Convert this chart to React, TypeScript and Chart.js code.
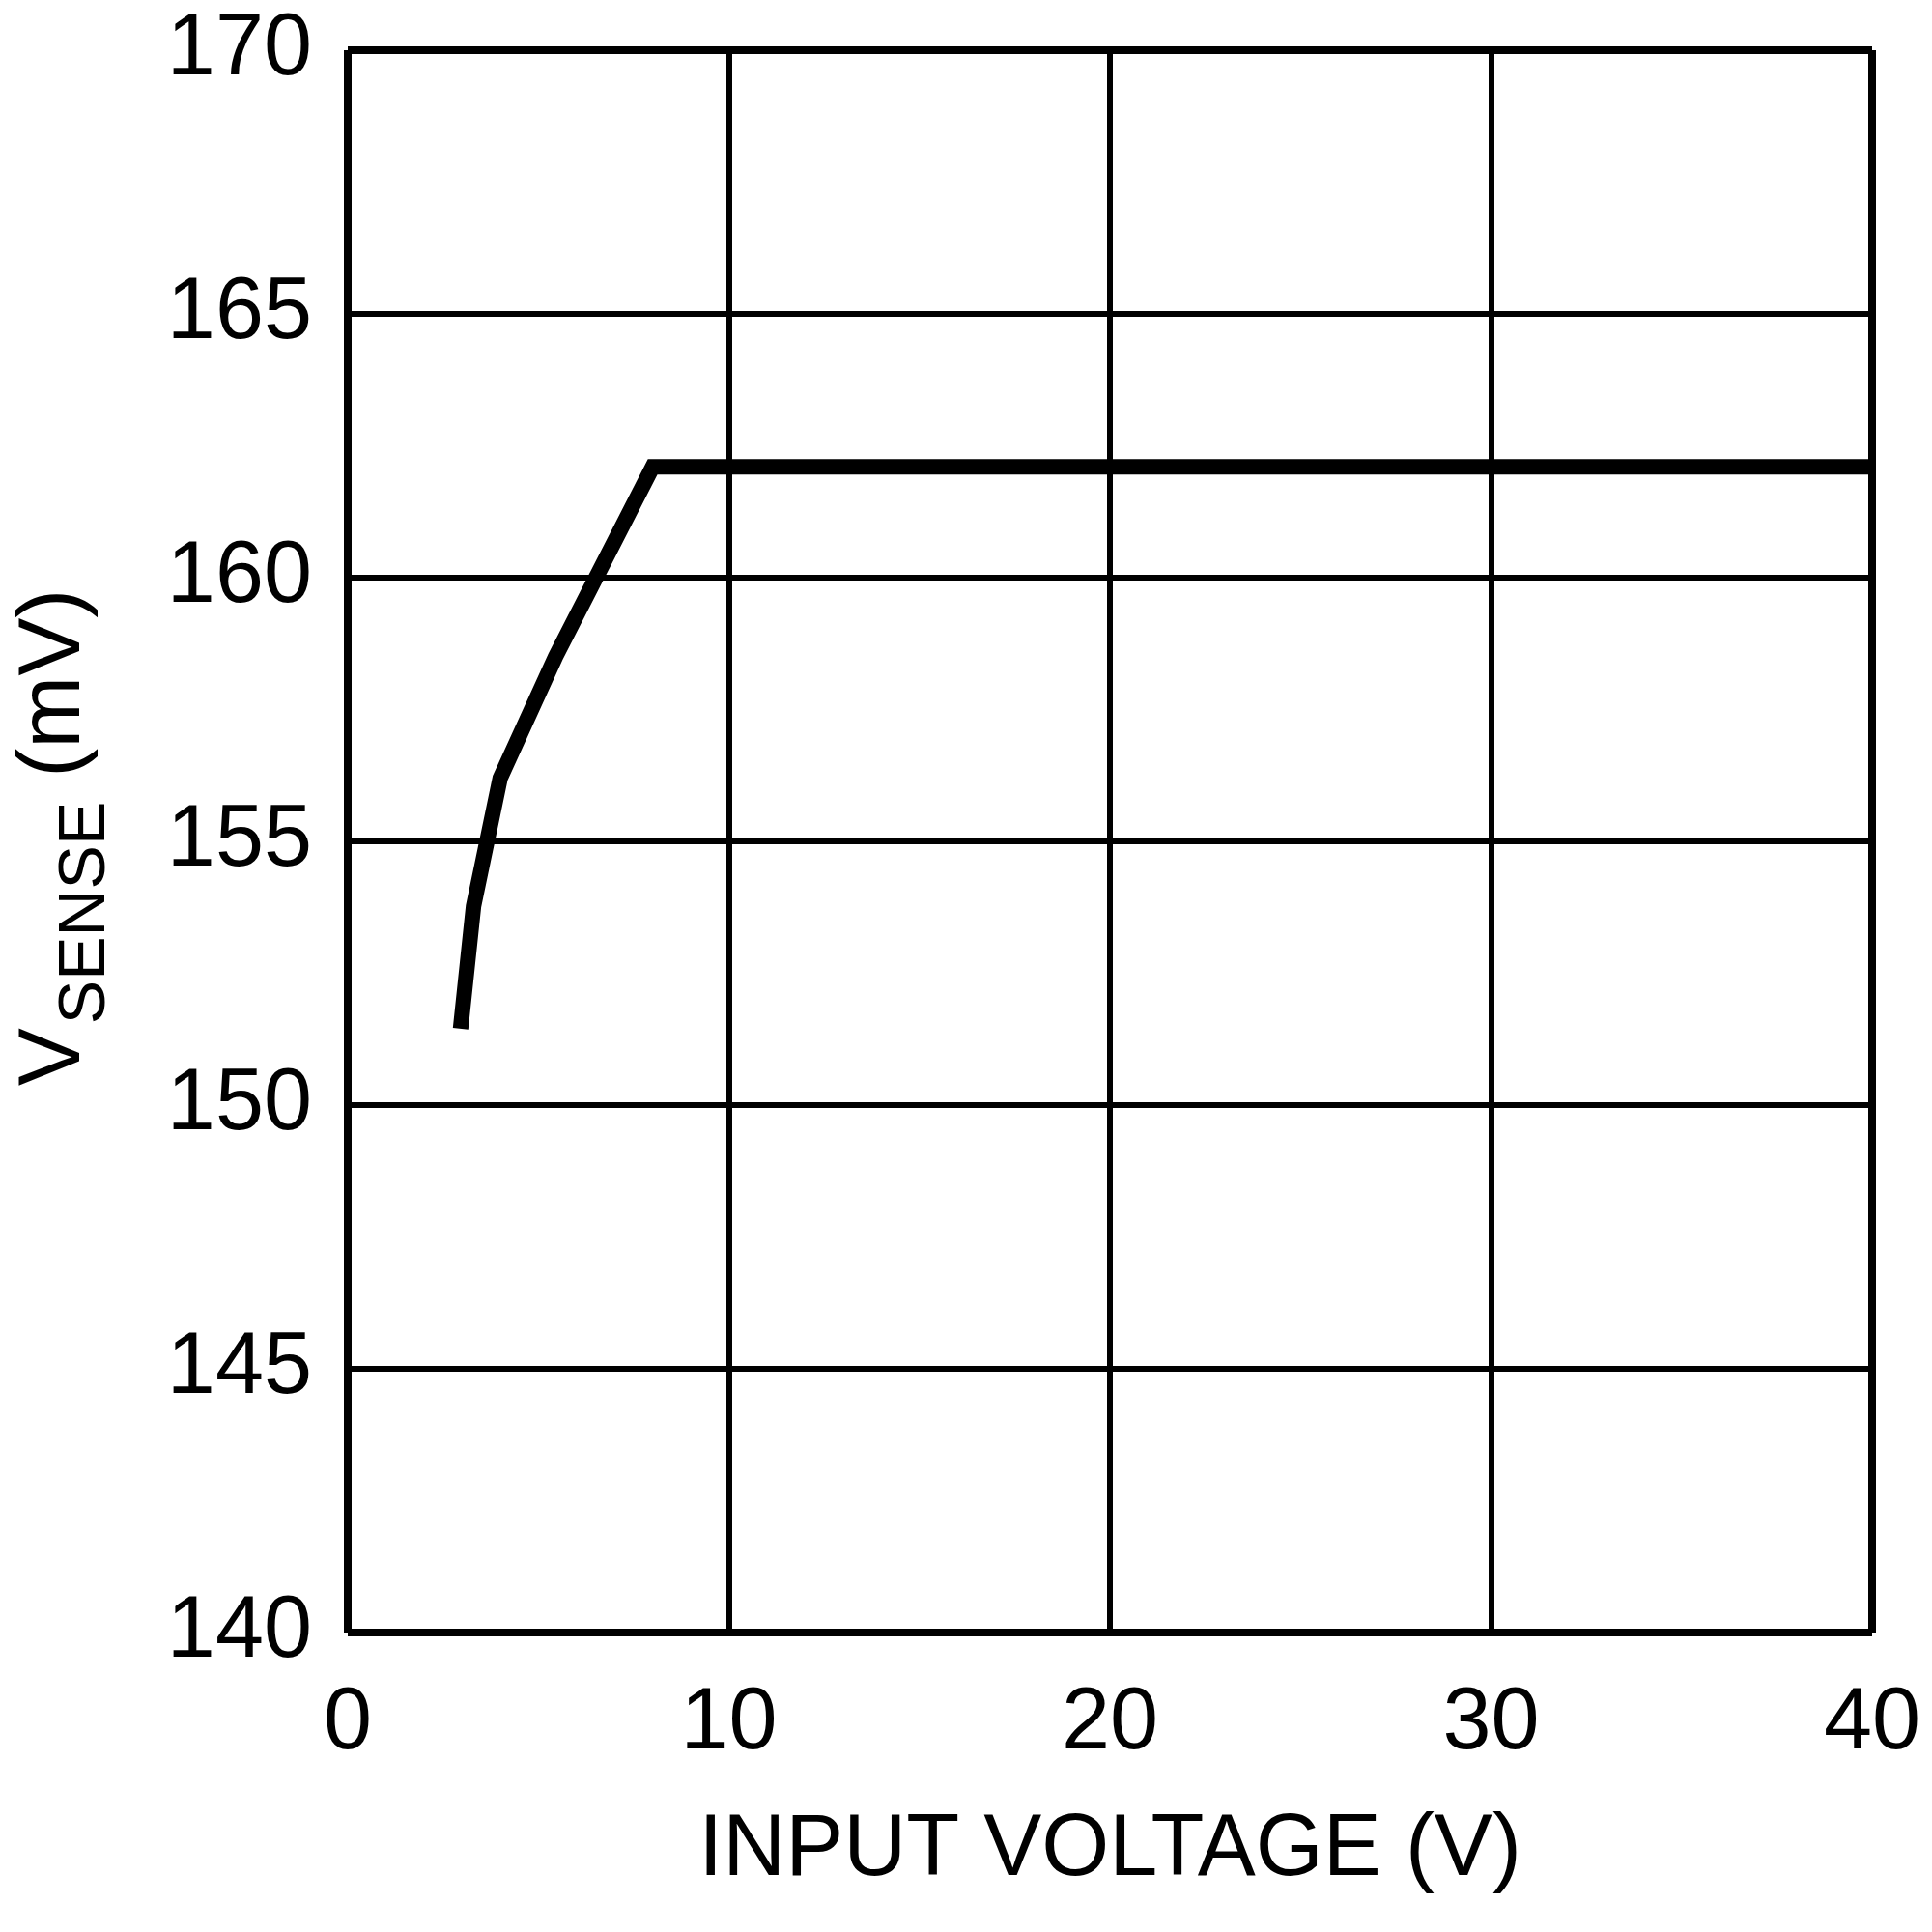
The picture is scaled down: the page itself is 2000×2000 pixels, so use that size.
import React, { useEffect, useRef } from "react";
import { Chart, registerables } from "chart.js";

Chart.register(...registerables);

// ---- data ----
const inputVoltage = [2.96, 3.3, 4.0, 5.45, 8.0, 40];
const vSense = [151.45, 153.77, 156.2, 158.5, 162.1, 162.1];
const xTicks = [0, 10, 20, 30, 40];
const yTicks = [140, 145, 150, 155, 160, 165, 170];
const xTitle = "INPUT VOLTAGE (V)";
const yTitleMain = "V";
const yTitleSub = "SENSE";
const yTitleUnit = " (mV)";

const FONT = "'Liberation Sans', Arial, Helvetica, sans-serif";

const yTitlePlugin = {
  id: "yTitleSub",
  beforeDraw(chart: any) {
    const { ctx, width, height } = chart;
    ctx.save();
    ctx.fillStyle = "#fff";
    ctx.fillRect(0, 0, width, height);
    ctx.restore();
  },
  afterDraw(chart: any) {
    const { ctx, chartArea } = chart;
    const big = `90px ${FONT}`;
    const small = `68px ${FONT}`;
    ctx.save();
    ctx.font = big;
    const w1 = ctx.measureText(yTitleMain).width;
    ctx.font = small;
    const w2 = ctx.measureText(yTitleSub).width;
    ctx.font = big;
    const w3 = ctx.measureText(yTitleUnit).width;
    const gap = 4;
    const total = w1 + gap + w2 + w3;
    const cy = (chartArea.top + chartArea.bottom) / 2 - 4;
    const baseX = chartArea.left - 278;
    ctx.translate(baseX, cy + total / 2);
    ctx.rotate(-Math.PI / 2);
    ctx.fillStyle = "#000";
    ctx.textAlign = "left";
    ctx.textBaseline = "alphabetic";
    ctx.font = big;
    ctx.fillText(yTitleMain, 0, 0);
    ctx.font = small;
    ctx.fillText(yTitleSub, w1 + gap, 26);
    ctx.font = big;
    ctx.fillText(yTitleUnit, w1 + gap + w2, 0);
    ctx.restore();
  },
};

const zeroPadding = (s: any) => {
  s.paddingTop = 0;
  s.paddingBottom = 0;
  s.paddingLeft = 0;
  s.paddingRight = 0;
};

export default function App() {
  const canvasRef = useRef<HTMLCanvasElement | null>(null);

  useEffect(() => {
    document.body.style.margin = "0";
    const canvas = canvasRef.current;
    if (!canvas) return;
    const edgeX = (c: any) =>
      c.tick && (c.tick.value === xTicks[0] || c.tick.value === xTicks[xTicks.length - 1]) ? 8 : 6;
    const edgeY = (c: any) =>
      c.tick && (c.tick.value === yTicks[0] || c.tick.value === yTicks[yTicks.length - 1]) ? 8 : 6;

    const chart = new Chart(canvas, {
      type: "line",
      data: {
        datasets: [
          {
            data: inputVoltage.map((x, i) => ({ x, y: vSense[i] })),
            borderColor: "#000",
            borderWidth: 16,
            borderJoinStyle: "miter",
            borderCapStyle: "butt",
            pointRadius: 0,
            tension: 0,
            fill: false,
          },
        ],
      },
      options: {
        animation: false,
        responsive: false,
        devicePixelRatio: 1,
        layout: { padding: { top: 52, right: 62, left: 0, bottom: 0 } },
        plugins: { legend: { display: false }, tooltip: { enabled: false } },
        scales: {
          x: {
            type: "linear",
            min: xTicks[0],
            max: xTicks[xTicks.length - 1],
            afterBuildTicks: (s: any) => {
              s.ticks = xTicks.map((v) => ({ value: v }));
            },
            afterFit: (s: any) => {
              s.height = 310;
              zeroPadding(s);
            },
            ticks: {
              color: "#000",
              font: { family: FONT, size: 90, lineHeight: 1 },
              padding: 50,
              autoSkip: false,
              maxRotation: 0,
              minRotation: 0,
            },
            grid: { color: "#000", lineWidth: edgeX, drawTicks: false },
            border: { display: false },
            title: {
              display: true,
              text: xTitle,
              color: "#000",
              font: { family: FONT, size: 90, lineHeight: 1.2 },
              padding: { top: 0, bottom: 30 },
            },
          },
          y: {
            type: "linear",
            min: yTicks[0],
            max: yTicks[yTicks.length - 1],
            afterBuildTicks: (s: any) => {
              s.ticks = yTicks.map((v) => ({ value: v }));
            },
            afterFit: (s: any) => {
              s.width = 360;
              zeroPadding(s);
            },
            ticks: {
              color: "#000",
              font: { family: FONT, size: 90, lineHeight: 1 },
              padding: 37,
              autoSkip: false,
            },
            grid: { color: "#000", lineWidth: edgeY, drawTicks: false },
            border: { display: false },
          },
        },
      },
      plugins: [yTitlePlugin],
    } as any);
    return () => chart.destroy();
  }, []);

  return (
    <div style={{ width: 2000, height: 2000, background: "#fff" }}>
      <canvas ref={canvasRef} width={2000} height={2000} style={{ display: "block" }} />
    </div>
  );
}
